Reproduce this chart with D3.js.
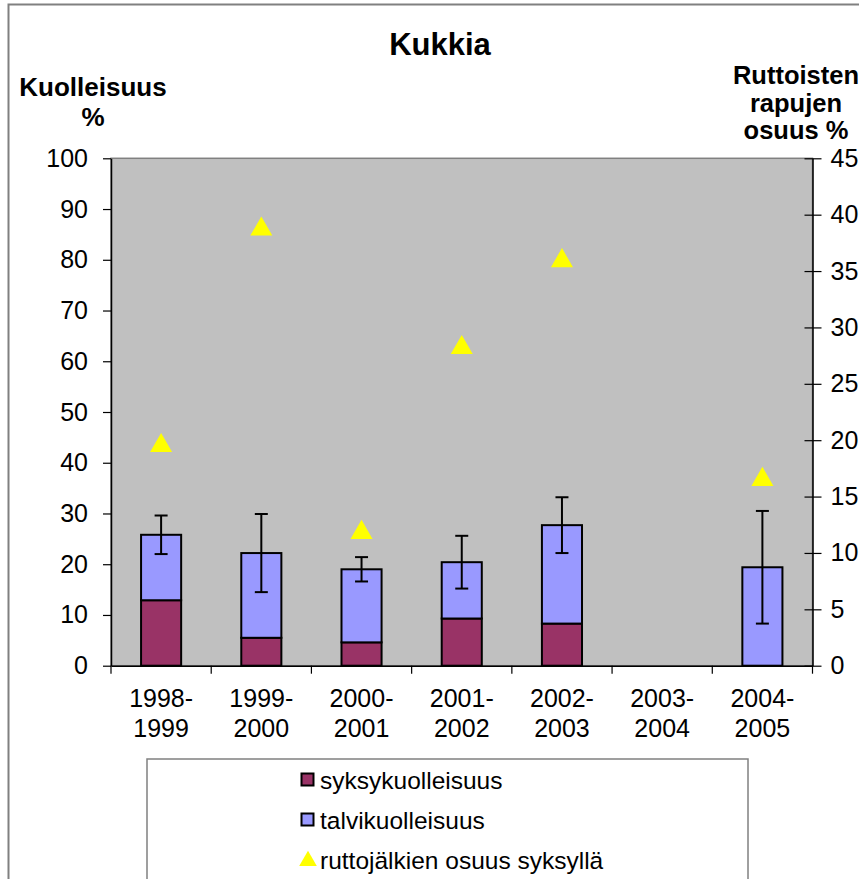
<!DOCTYPE html>
<html>
<head>
<meta charset="utf-8">
<script src="https://cdn.jsdelivr.net/npm/d3@7"></script>
<style>
  body { margin: 0; background: #fff; }
  svg { display: block; font-family: Arial, "Liberation Sans", sans-serif; }
</style>
</head>
<body>
<svg width="859" height="879"></svg>
<script>
const seasons = ['1998-1999', '1999-2000', '2000-2001', '2001-2002', '2002-2003', '2003-2004', '2004-2005']
const autumnDeaths = [12.9, 5.5, 4.6, 9.3, 8.3, null, 0]
const winterDeaths = [12.9, 16.7, 14.4, 11.1, 19.4, null, 19.4]
const totalError = [3.8, 7.7, 2.4, 5.2, 5.5, null, 11.1]
const plagueShare = [19.6, 38.8, 11.9, 28.3, 36.0, null, 16.6]
const leftTicks = [0, 10, 20, 30, 40, 50, 60, 70, 80, 90, 100]
const rightTicks = [0, 5, 10, 15, 20, 25, 30, 35, 40, 45]
const legendLabels = ['syksykuolleisuus', 'talvikuolleisuus', 'ruttojälkien osuus syksyllä']

const svg = d3.select('svg')

const plot = {left: 111, right: 812.5, top: 158.3, bottom: 665.7}

const colors = {autumn: '#993366', winter: '#9999FF', plague: '#FFFF00'}

const data = seasons.map((s, i) => ({
  season: s,
  autumn: autumnDeaths[i],
  winter: winterDeaths[i],
  err: totalError[i],
  plague: plagueShare[i]
}))

// outer frame
svg.append('rect')
  .attr('x', 8.5).attr('y', 4.5)
  .attr('width', 900).attr('height', 900)
  .attr('fill', 'none').attr('stroke', '#808080').attr('stroke-width', 2)

// SCALES
const x = d3.scaleBand()
  .domain(seasons)
  .range([plot.left, plot.right])
  .paddingInner(0.6)
  .paddingOuter(0.3)

const yLeft = d3.scaleLinear().domain([0, 100]).range([plot.bottom, plot.top])
const yRight = d3.scaleLinear().domain([0, 45]).range([plot.bottom, plot.top])

// plot area
svg.append('rect')
  .attr('x', plot.left).attr('y', plot.top)
  .attr('width', plot.right - plot.left).attr('height', plot.bottom - plot.top)
  .attr('fill', '#C0C0C0').attr('stroke', '#808080').attr('stroke-width', 1.5)

// BARS (stacked)
const bars = svg.append('g')
const withData = data.filter(d => d.winter != null)

bars.selectAll('rect.autumn')
  .data(withData.filter(d => d.autumn > 0))
  .enter().append('rect')
    .attr('class', 'autumn')
    .attr('x', d => x(d.season))
    .attr('width', x.bandwidth())
    .attr('y', d => yLeft(d.autumn))
    .attr('height', d => yLeft(0) - yLeft(d.autumn))
    .attr('fill', colors.autumn)
    .attr('stroke', '#000').attr('stroke-width', 2)

bars.selectAll('rect.winter')
  .data(withData)
  .enter().append('rect')
    .attr('class', 'winter')
    .attr('x', d => x(d.season))
    .attr('width', x.bandwidth())
    .attr('y', d => yLeft(d.autumn + d.winter))
    .attr('height', d => yLeft(d.autumn) - yLeft(d.autumn + d.winter))
    .attr('fill', colors.winter)
    .attr('stroke', '#000').attr('stroke-width', 2)

// error bars
const errG = svg.append('g').attr('stroke', '#000').attr('stroke-width', 2)
withData.forEach(d => {
  const cx = x(d.season) + x.bandwidth() / 2
  const tot = d.autumn + d.winter
  const y1 = yLeft(tot + d.err), y2 = yLeft(tot - d.err)
  errG.append('line').attr('x1', cx).attr('x2', cx).attr('y1', y1).attr('y2', y2)
  errG.append('line').attr('x1', cx - 6.5).attr('x2', cx + 6.5).attr('y1', y1).attr('y2', y1)
  errG.append('line').attr('x1', cx - 6.5).attr('x2', cx + 6.5).attr('y1', y2).attr('y2', y2)
})

// triangles (right axis)
const tri = d3.symbol().type(d3.symbolTriangle).size(210)
svg.append('g')
  .selectAll('path')
  .data(data.filter(d => d.plague != null))
  .enter().append('path')
    .attr('d', tri)
    .attr('transform', d => `translate(${x(d.season) + x.bandwidth() / 2},${yRight(d.plague) + 1})`)
    .attr('fill', colors.plague)

// AXES
const leftAxis = svg.append('g')
  .attr('transform', `translate(${plot.left},0)`)
  .call(d3.axisLeft(yLeft).tickValues(leftTicks).tickSizeInner(8).tickSizeOuter(0).tickPadding(15))
leftAxis.select('.domain').attr('stroke', '#000').attr('stroke-width', 1.5)
leftAxis.selectAll('.tick line').attr('stroke', '#000').attr('stroke-width', 1.2)
leftAxis.selectAll('.tick text').style('font-size', '25px').attr('fill', '#000')

const rightAxis = svg.append('g')
  .attr('transform', `translate(${plot.right},0)`)
  .call(d3.axisRight(yRight).tickValues(rightTicks).tickSizeInner(9).tickSizeOuter(0).tickPadding(9))
rightAxis.select('.domain').attr('stroke', '#000').attr('stroke-width', 1.5)
rightAxis.selectAll('.tick line').attr('x1', -8).attr('stroke', '#000').attr('stroke-width', 1.2)
rightAxis.selectAll('.tick text').style('font-size', '25px').attr('fill', '#000')

const xAxis = svg.append('g')
  .attr('transform', `translate(0,${plot.bottom})`)
  .call(d3.axisBottom(x).tickSize(0).tickFormat(''))
xAxis.select('.domain').attr('stroke', '#000').attr('stroke-width', 1.5)
xAxis.selectAll('.tick text').each(function(d) {
  const parts = d.split('-')
  const t = d3.select(this).attr('y', 0).attr('dy', null).style('font-size', '25px').attr('fill', '#000')
  t.append('tspan').attr('x', 0).attr('y', 41).text(parts[0] + '-')
  t.append('tspan').attr('x', 0).attr('y', 71.6).text(parts[1])
})
// category boundary ticks
xAxis.selectAll('line.bound')
  .data(d3.range(seasons.length + 1))
  .enter().append('line')
    .attr('class', 'bound')
    .attr('x1', i => plot.left + i * x.step()).attr('x2', i => plot.left + i * x.step())
    .attr('y1', 0).attr('y2', 8)
    .attr('stroke', '#000').attr('stroke-width', 1.2)

// TITLES
svg.append('text')
  .text('Kukkia')
  .attr('x', 440).attr('y', 55)
  .attr('text-anchor', 'middle')
  .style('font-size', '31px').style('font-weight', 'bold')

const leftTitle = svg.append('text')
  .attr('text-anchor', 'middle')
  .style('font-size', '26px').style('font-weight', 'bold')
leftTitle.append('tspan').attr('x', 93).attr('y', 96).text('Kuolleisuus')
leftTitle.append('tspan').attr('x', 93).attr('y', 126).text('%')

const rightTitle = svg.append('text')
  .attr('text-anchor', 'middle')
  .style('font-size', '25.5px').style('font-weight', 'bold')
;['Ruttoisten', 'rapujen', 'osuus %'].forEach((s, i) => {
  rightTitle.append('tspan').attr('x', 796).attr('y', 84 + i * 27.5).text(s)
})

// LEGEND
svg.append('rect')
  .attr('x', 147).attr('y', 759)
  .attr('width', 601).attr('height', 200)
  .attr('fill', '#fff').attr('stroke', '#808080').attr('stroke-width', 1.5)

const legend = svg.append('g')
legendLabels.forEach((label, i) => {
  const cy = 780 + i * 40
  if (i < 2) {
    legend.append('rect')
      .attr('x', 301.5).attr('y', cy - 6.5)
      .attr('width', 12).attr('height', 12)
      .attr('fill', i === 0 ? colors.autumn : colors.winter)
      .attr('stroke', '#000').attr('stroke-width', 2)
  } else {
    legend.append('path')
      .attr('d', d3.symbol().type(d3.symbolTriangle).size(135)())
      .attr('transform', `translate(308,${cy + 1})`)
      .attr('fill', colors.plague)
  }
  legend.append('text')
    .text(label)
    .attr('x', 320).attr('y', cy + 8.5)
    .style('font-size', '24.5px')
})
</script>
</body>
</html>
